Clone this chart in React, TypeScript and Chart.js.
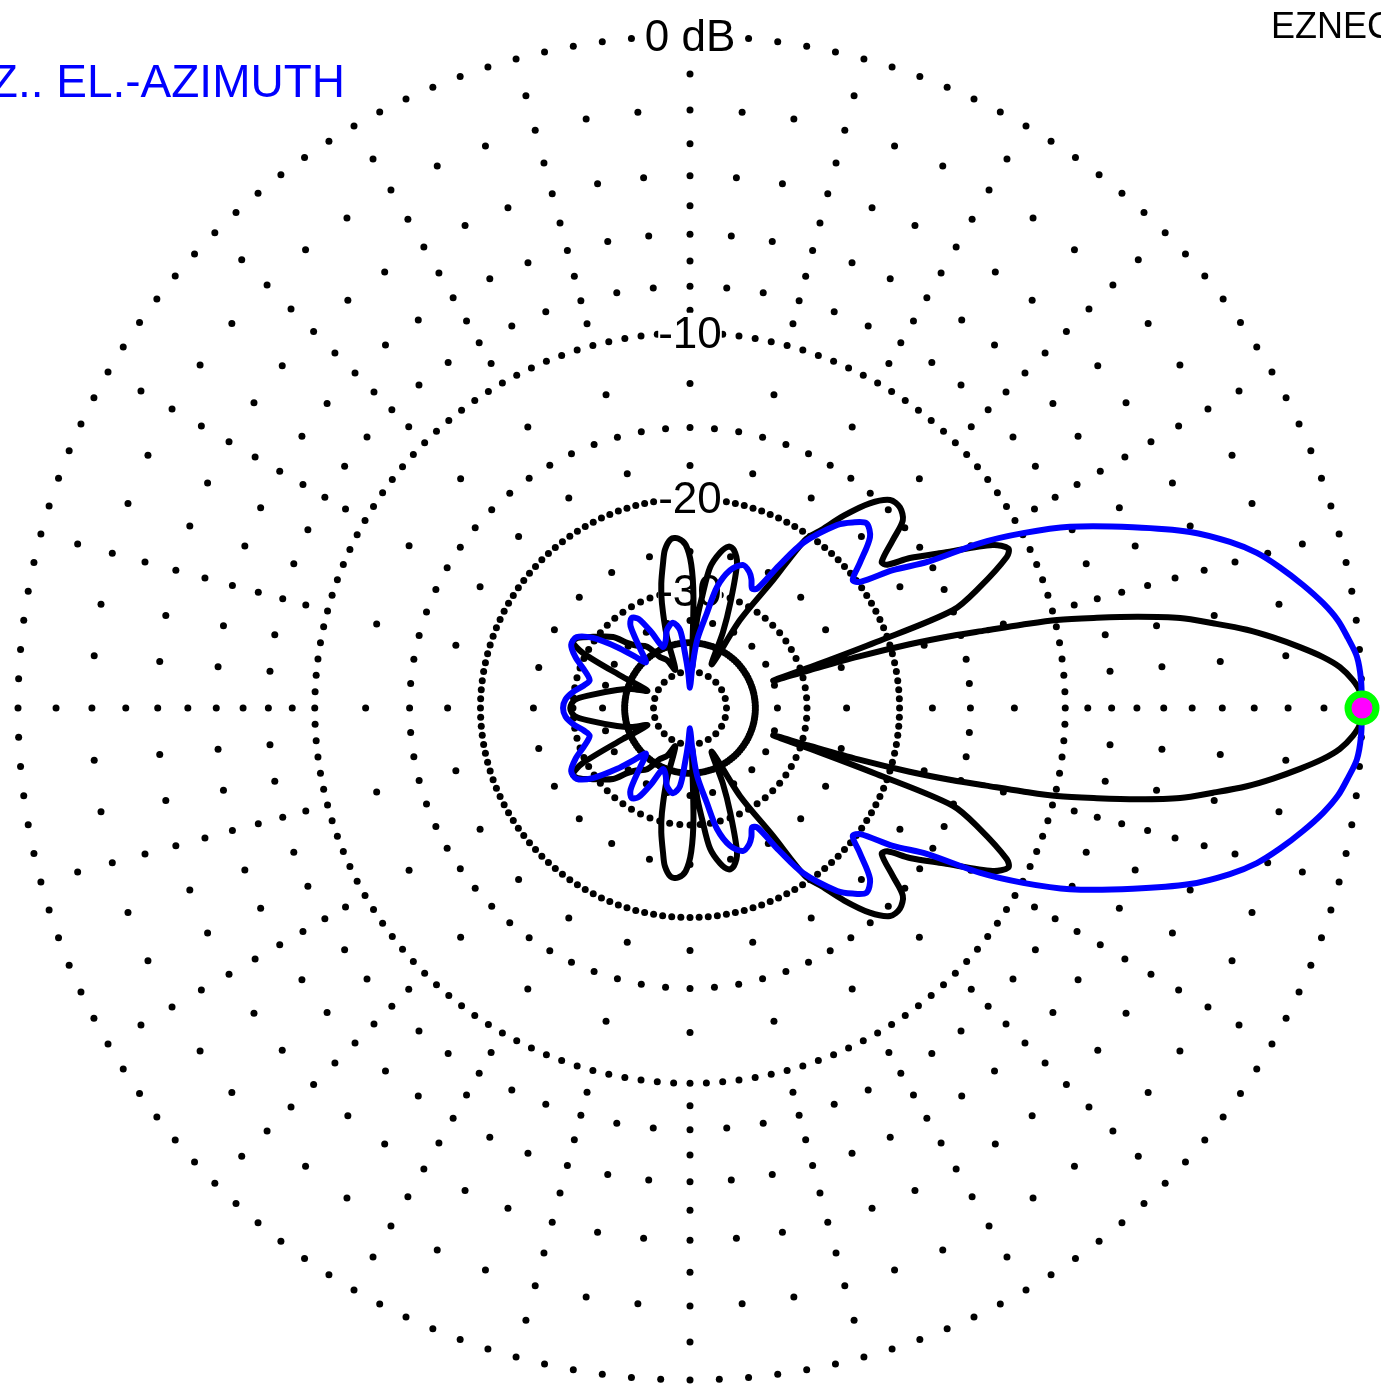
import React, { useEffect, useRef } from "react";
import { Chart, registerables } from "chart.js";

Chart.register(...registerables);

// ---- Pattern data (upper half, azimuth degrees CCW from right; mirrored for lower half) ----
const blackAngles = [
  0, 1.4, 2.4, 3.6, 4.6, 5.7, 6.9, 8.0, 9.2, 10.4, 11.5, 12.5, 13.5, 14.1, 14.7, 15.4, 16.2, 17.0, 17.6,
  18.2, 18.8, 19.5, 20.4, 22.6, 25.5, 26.6, 28.3, 31.5, 34.3, 36.0, 37.3, 39.6, 41.4, 43.7, 46.1, 48.7,
  51.3, 53.5, 55.6, 57.0, 60.4, 63.5, 66.5, 69.0, 72.0, 74.5, 76.5, 79.0, 81.9, 83.8, 85.5, 87.0, 88.2,
  89.5, 91.5, 94.0, 96.5, 99.0, 100.5, 103.0, 105.0, 108.0, 111.0, 115.6, 120.5, 125.0, 130.8, 134.0,
  137.3, 143.8, 148.0, 150.6, 152.8, 155.2, 158.0, 162.0, 166.1, 172.6, 176.0, 180,
];
const blackDb = [
  0, -0.05, -0.22, -0.54, -0.97, -1.58, -2.31, -3.06, -4.08, -5.13, -6.6, -8.2, -9.9, -11.6, -13.5, -15.5,
  -18.5, -23, -29, -35, -28, -21, -15.0, -13.1, -11.15, -10.9, -11.5, -14.0, -15.9, -17.4, -17.6, -16.1,
  -14.8, -14.4, -14.5, -15.5, -17.2, -19.0, -20.5, -25.5, -32.5, -45, -36, -30.7, -25.5, -24.2, -24.0,
  -24.8, -26.7, -30.8, -34.9, -48, -31, -26.5, -24.3, -23.6, -23.6, -24.6, -26.0, -28.5, -31.3, -37.7,
  -48, -43.6, -41.7, -37.7, -36, -34.4, -31.9, -29.5, -27.9, -27.6, -29.5, -37.9, -46, -41, -37.6, -32.6,
  -30.2, -29.6,
];

const blueAngles = [
  0, 2.4, 4.4, 6.1, 7.7, 9.4, 11.35, 13.4, 15.3, 17.1, 19.4, 22.2, 25.5, 27.7, 29.6, 31.6, 34.2, 36.5,
  38.2, 40.5, 43.5, 46.3, 48.8, 51.2, 55.6, 58.0, 60.5, 62.5, 64.5, 66.5, 69.7, 73.8, 77.4, 79.9, 84.0,
  87.0, 90.0, 93.0, 95.2, 97.3, 101.3, 106.4, 110.0, 113.9, 117.0, 120.0, 123.0, 126.0, 130.0, 134.0,
  137.0, 140.1, 144.2, 148.0, 152.0, 156.0, 160.0, 164.5, 168.0, 172.0, 176.0, 180,
];
const blueDb = [
  0, -0.01, -0.08, -0.27, -0.47, -0.79, -1.24, -1.76, -2.3, -2.98, -4.07, -5.83, -8.03, -9.96, -12.0,
  -15.1, -17.3, -19.8, -20.2, -18.9, -17.1, -16.6, -17.2, -18.05, -20.8, -23.8, -27.2, -27.6, -26.6,
  -25.9, -25.45, -26.5, -29.0, -33.3, -39.2, -49, -60, -50, -43, -36.8, -35.1, -36.2, -38.5, -39.6,
  -35.5, -32.2, -31.5, -32.5, -37, -40.5, -37.5, -33.6, -29.6, -27.7, -27.6, -28.8, -30.6, -32.0,
  -31.3, -29.9, -28.9, -28.6,
];

const markerAngle = [0];
const markerDb = [0];

// ---- Grid (ARRL log scale) ----
const ringDb = [0, -10, -15, -20, -30, -40, -50];
const ringStepDeg = [2.5, 2.5, 5, 2.5, 5, 2.5, 15];
const majorRadialDb = [-1, -2, -3, -4, -5, -6, -7, -8, -9, -12.5, -17.5, -25, -35];
const minorRadialDb = [-2, -4, -6, -8];
const labelDb = [0, -10, -20, -30];
const labelText = ["0 dB", "-10", "-20", "-30"];
const titleText = "Z.. EL.-AZIMUTH";
const brandText = "EZNEC";

const W = 1381;
const H = 1386;
const CX = 690;
const CY = 708;
const R = 672;
const FONT = '"Liberation Sans", Arial, Helvetica, sans-serif';

function radius(db: number) {
  return Math.pow(0.89, -db / 2);
}
function toXY(angle: number, db: number) {
  const r = radius(db);
  const t = (angle * Math.PI) / 180;
  return { x: r * Math.cos(t), y: r * Math.sin(t) };
}
function fullPattern(angles: number[], dbs: number[]) {
  const pts = angles.map((a, i) => toXY(a, dbs[i]));
  for (let i = angles.length - 2; i >= 0; i--) pts.push(toXY(360 - angles[i], dbs[i]));
  return pts;
}

const gridPlugin = {
  id: "arrlGrid",
  beforeDatasetsDraw(chart: any) {
    const ctx = chart.ctx as CanvasRenderingContext2D;
    const xs = chart.scales.x;
    const ys = chart.scales.y;
    const px = (a: number, db: number) => {
      const p = toXY(a, db);
      return [xs.getPixelForValue(p.x), ys.getPixelForValue(p.y)];
    };
    ctx.save();
    ctx.fillStyle = "#000";
    const dot = (a: number, db: number) => {
      const [x, y] = px(a, db);
      ctx.beginPath();
      ctx.arc(x, y, 3.5, 0, Math.PI * 2);
      ctx.fill();
    };
    ringDb.forEach((db, i) => {
      const step = ringStepDeg[i];
      for (let a = 0; a < 360 - 1e-6; a += step) dot(a, db);
    });
    for (let a = 0; a < 360; a += 5) {
      const levels = a % 15 === 0 ? majorRadialDb : minorRadialDb;
      levels.forEach((db) => dot(a, db));
    }
    ctx.font = `44px ${FONT}`;
    ctx.textAlign = "center";
    ctx.textBaseline = "alphabetic";
    labelDb.forEach((db, i) => {
      const [x, y] = px(90, db);
      const w = ctx.measureText(labelText[i]).width;
      ctx.fillStyle = "#fff";
      ctx.fillRect(x - w / 2, y - 20, w, 40);
      ctx.fillStyle = "#000";
      ctx.fillText(labelText[i], x, y + 15);
    });
    ctx.restore();
  },
  afterDraw(chart: any) {
    const ctx = chart.ctx as CanvasRenderingContext2D;
    ctx.save();
    ctx.textBaseline = "alphabetic";
    ctx.font = `46px ${FONT}`;
    ctx.fillStyle = "#0000ff";
    ctx.textAlign = "right";
    ctx.fillText(titleText, 345, 97);
    ctx.font = `36px ${FONT}`;
    ctx.fillStyle = "#000";
    ctx.textAlign = "left";
    ctx.fillText(brandText, 1271, 38);
    ctx.restore();
  },
};

export default function App() {
  const ref = useRef<HTMLCanvasElement>(null);
  useEffect(() => {
    const canvas = ref.current;
    if (!canvas) return;
    const chart = new Chart(canvas, {
      type: "scatter",
      data: {
        datasets: [
          {
            label: "max",
            data: markerAngle.map((a, i) => toXY(a, markerDb[i])),
            pointRadius: 14,
            pointBackgroundColor: "#ff00ff",
            pointBorderColor: "#00ff00",
            pointBorderWidth: 7,
            clip: false,
            order: 0,
          },
          {
            label: "blue",
            data: fullPattern(blueAngles, blueDb),
            showLine: true,
            borderColor: "#0000ff",
            borderWidth: 6,
            pointRadius: 0,
            tension: 0.3,
            fill: false,
            order: 1,
          },
          {
            label: "black",
            data: fullPattern(blackAngles, blackDb),
            showLine: true,
            borderColor: "#000000",
            borderWidth: 6,
            pointRadius: 0,
            tension: 0.3,
            fill: false,
            order: 2,
          },
        ],
      },
      options: {
        animation: false,
        responsive: false,
        maintainAspectRatio: false,
        events: [],
        layout: { padding: 0, autoPadding: false },
        plugins: { legend: { display: false }, tooltip: { enabled: false } },
        scales: {
          x: { type: "linear", display: false, min: -CX / R, max: (W - CX) / R },
          y: { type: "linear", display: false, min: -(H - CY) / R, max: CY / R },
        },
      },
      plugins: [gridPlugin],
    } as any);
    return () => chart.destroy();
  }, []);
  return (
    <div style={{ position: "absolute", left: 0, top: 0, width: W, height: H, background: "#fff", overflow: "hidden" }}>
      <canvas ref={ref} width={W} height={H} style={{ display: "block", width: W, height: H }} />
    </div>
  );
}
